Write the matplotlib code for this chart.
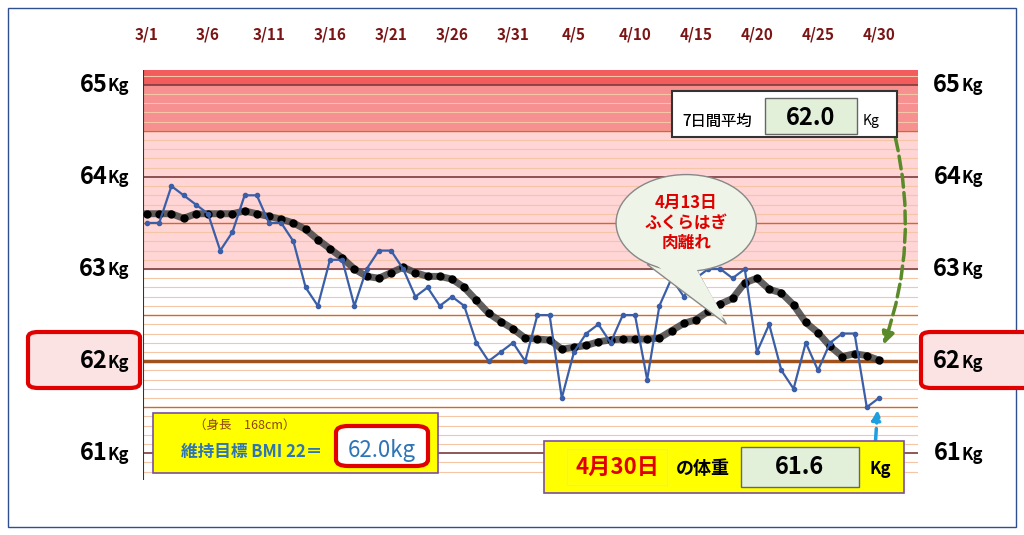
import matplotlib
matplotlib.use("Agg")
import matplotlib.pyplot as plt
from matplotlib.patches import FancyBboxPatch, Rectangle, Ellipse, Polygon
import numpy as np

plt.rcParams['font.family'] = ['Noto Sans CJK JP', 'DejaVu Sans']

tick_labels = ["3/1","3/6","3/11","3/16","3/21","3/26","3/31","4/5","4/10","4/15","4/20","4/25","4/30"]
weight = [63.5,63.5,63.9,63.8,63.7,63.6,63.2,63.4,63.8,63.8,63.5,63.5,63.3,62.8,62.6,63.1,63.1,62.6,63.0,63.2,
          63.2,63.0,62.7,62.8,62.6,62.7,62.6,62.2,62.0,62.1,62.2,62.0,62.5,62.5,61.6,62.1,62.3,62.4,62.2,62.5,
          62.5,61.8,62.6,62.9,62.7,62.9,63.0,63.0,62.9,63.0,62.1,62.4,61.9,61.7,62.2,61.9,62.2,62.3,62.3,61.5,61.6]
avg7 = [63.6,63.6,63.6,63.55,63.6,63.6,63.6,63.6,63.63,63.6,63.57,63.54,63.5,63.43,63.32,63.22,63.12,63.0,62.92,62.9,
        62.96,63.02,62.96,62.92,62.92,62.89,62.8,62.66,62.52,62.43,62.35,62.25,62.24,62.23,62.13,62.15,62.17,62.21,62.23,62.24,
        62.24,62.24,62.25,62.33,62.41,62.45,62.54,62.62,62.68,62.85,62.9,62.78,62.74,62.61,62.42,62.31,62.16,62.05,62.08,62.06,62.01]
ylabels = [65, 64, 63, 62, 61]

W, H = 1024, 535
fig = plt.figure(figsize=(W/100, H/100), dpi=100)
ax = fig.add_axes([143/W, 1-480/H, (918-143)/W, 410/H])
ft = fig.transFigure

def fpatch(p, z):
    p.set_transform(ft); p.set_clip_on(False); p.set_zorder(z); ax.add_patch(p)

fpatch(Rectangle((8/W, 8/H), 1008/W, 519/H, fill=False, ec="#2f4f8f", lw=1), 0.1)
ax.set_xlim(-0.33, 63.2)
ax.set_ylim(60.71, 65.16)
ax.axhspan(65.0, 65.2, color="#f25c5c", zorder=0)
ax.axhspan(64.5, 65.0, color="#f79090", zorder=0)
ax.axhspan(63.0, 64.5, color="#ffd5d5", zorder=0)
for i in range(607, 652):
    v = i/10
    if abs(v-62) < 1e-6:
        ax.axhline(v, color="#a0521d", lw=2.5, zorder=1)
    elif abs(v - round(v)) < 1e-6:
        ax.axhline(v, color="#7a3b3b", lw=1.2, zorder=1)
    elif abs(v*2 - round(v*2)) < 1e-6:
        ax.axhline(v, color="#d2691e", lw=1.0, zorder=1)
    else:
        ax.axhline(v, color="#f5c6a5", lw=0.8, zorder=1)
days = np.arange(len(weight))
ax.plot(days, avg7, color="#444444", lw=5, alpha=0.85, zorder=3)
ax.plot(days, avg7, 'o', color="black", ms=5, zorder=4)
ax.plot(days, weight, '-o', color="#3a5fa8", lw=1.6, ms=3, zorder=5)
ax.set_xticks(range(0, 61, 5))
ax.set_xticklabels(tick_labels, color="#7b1515", fontweight="bold", fontsize=11)
ax.xaxis.tick_top()
ax.tick_params(axis='x', length=0, pad=20)
ax.set_yticks([])
for s in ax.spines.values():
    s.set_visible(False)
ax.axvline(-0.33, color="#333", lw=1.5)

# red boxes around 62
for x0 in (28, 921):
    fpatch(FancyBboxPatch((x0/W, (535-388)/H), 112/W, 56/H,
           boxstyle="round,pad=0,rounding_size=0.01", fc="#fbe3e3", ec="#e00000", lw=3), 0.2)

# y labels both sides
for v in ylabels:
    for xl in (-3.6, 66.4):
        ax.annotate(str(v), (xl, v), annotation_clip=False, fontsize=17, fontweight="bold",
                    ha="right", va="center", xytext=(3, 0), textcoords="offset points", zorder=12)
        ax.annotate("Kg", (xl, v), annotation_clip=False, fontsize=12, fontweight="bold",
                    ha="left", va="center", xytext=(3, -1), textcoords="offset points", zorder=12)

# 7-day box
fpatch(Rectangle((672/W, 1-137/H), 225/W, 46/H, fc="white", ec="#333", lw=1.5), 10)
fig.text(717/W, 1-121/H, "7日間平均", fontsize=11, ha="center", va="center", zorder=11)
fpatch(Rectangle((765/W, 1-134/H), 92/W, 36/H, fc="#e2efd9", ec="#666", lw=1), 11)
ax.text(811/W, 1-118/H, "62.0", transform=ft, fontsize=17, fontweight="bold", ha="center", va="center", zorder=12)
ax.text(871/W, 1-121/H, "Kg", transform=ft, fontsize=10, ha="center", va="center", zorder=12)
ax.text(717/W, 1-121/H, "7日間平均", transform=ft, fontsize=11, ha="center", va="center", zorder=12)
# green dashed arrow
ax.annotate("", xy=(60.3, 62.15), xytext=(61.3, 64.45),
            arrowprops=dict(arrowstyle="-|>", color="#5a8a2a", lw=2.5, ls="--",
                            connectionstyle="arc3,rad=-0.15", mutation_scale=18), zorder=9)

# speech bubble
ax.add_patch(Polygon([[41, 63.05], [47.5, 62.4], [44.8, 63.05]], closed=True, fc="#eef5e8", ec="#888", lw=1, zorder=7))
ax.add_patch(Ellipse((44.2, 63.5), 11.5, 1.05, fc="#eef5e8", ec="#888", lw=1, zorder=7))
ax.add_patch(Polygon([[41.2, 63.1], [47.4, 62.45], [44.6, 63.1]], closed=True, fc="#eef5e8", ec="none", zorder=8))
ax.text(44.2, 63.5, "4月13日\nふくらはぎ\n肉離れ", color="#e00000", fontsize=12, fontweight="bold",
        ha="center", va="center", linespacing=1.15, zorder=9)

# BMI box
fpatch(Rectangle((153/W, 1-473/H), 285/W, 60/H, fc="#ffff00", ec="#7a4fa0", lw=1.2), 10)
ax.text(245/W, 1-425/H, "（身長　168cm）", transform=ft, fontsize=9, color="#8b4513", ha="center", va="center", zorder=11)
ax.text(252/W, 1-452/H, "維持目標 BMI 22＝", transform=ft, fontsize=12, fontweight="bold", color="#2e75b6", ha="center", va="center", zorder=11)
fpatch(FancyBboxPatch((336/W, 1-466/H), 92/W, 40/H,
       boxstyle="round,pad=0,rounding_size=0.012", fc="white", ec="#e00000", lw=3), 11)
ax.text(382/W, 1-451/H, "62.0kg", transform=ft, fontsize=16, color="#2e75b6", ha="center", va="center", zorder=12)

# bottom right box
fpatch(Rectangle((544/W, 1-493/H), 360/W, 52/H, fc="#ffff00", ec="#7a4fa0", lw=1.2), 10)
fpatch(Rectangle((567/W, 1-485/H), 100/W, 36/H, fc="#ffff00", ec="#ddd", lw=0.8), 11)
ax.text(617/W, 1-467/H, "4月30日", transform=ft, fontsize=16, fontweight="bold", color="#e00000", ha="center", va="center", zorder=12)
ax.text(703/W, 1-469/H, "の体重", transform=ft, fontsize=13, fontweight="bold", ha="center", va="center", zorder=12)
fpatch(Rectangle((741/W, 1-487/H), 118/W, 40/H, fc="#e2efd9", ec="#666", lw=1), 11)
ax.text(800/W, 1-467/H, "61.6", transform=ft, fontsize=17, fontweight="bold", ha="center", va="center", zorder=12)
ax.text(880/W, 1-469/H, "Kg", transform=ft, fontsize=12, fontweight="bold", ha="center", va="center", zorder=12)
# cyan dashed arrow
ax.annotate("", xy=(59.9, 61.5), xytext=(59.6, 60.9),
            arrowprops=dict(arrowstyle="-|>", color="#1ea0e0", lw=2.5, ls="--", mutation_scale=14), zorder=9)

fig.savefig("out.png", dpi=100, facecolor="white")
